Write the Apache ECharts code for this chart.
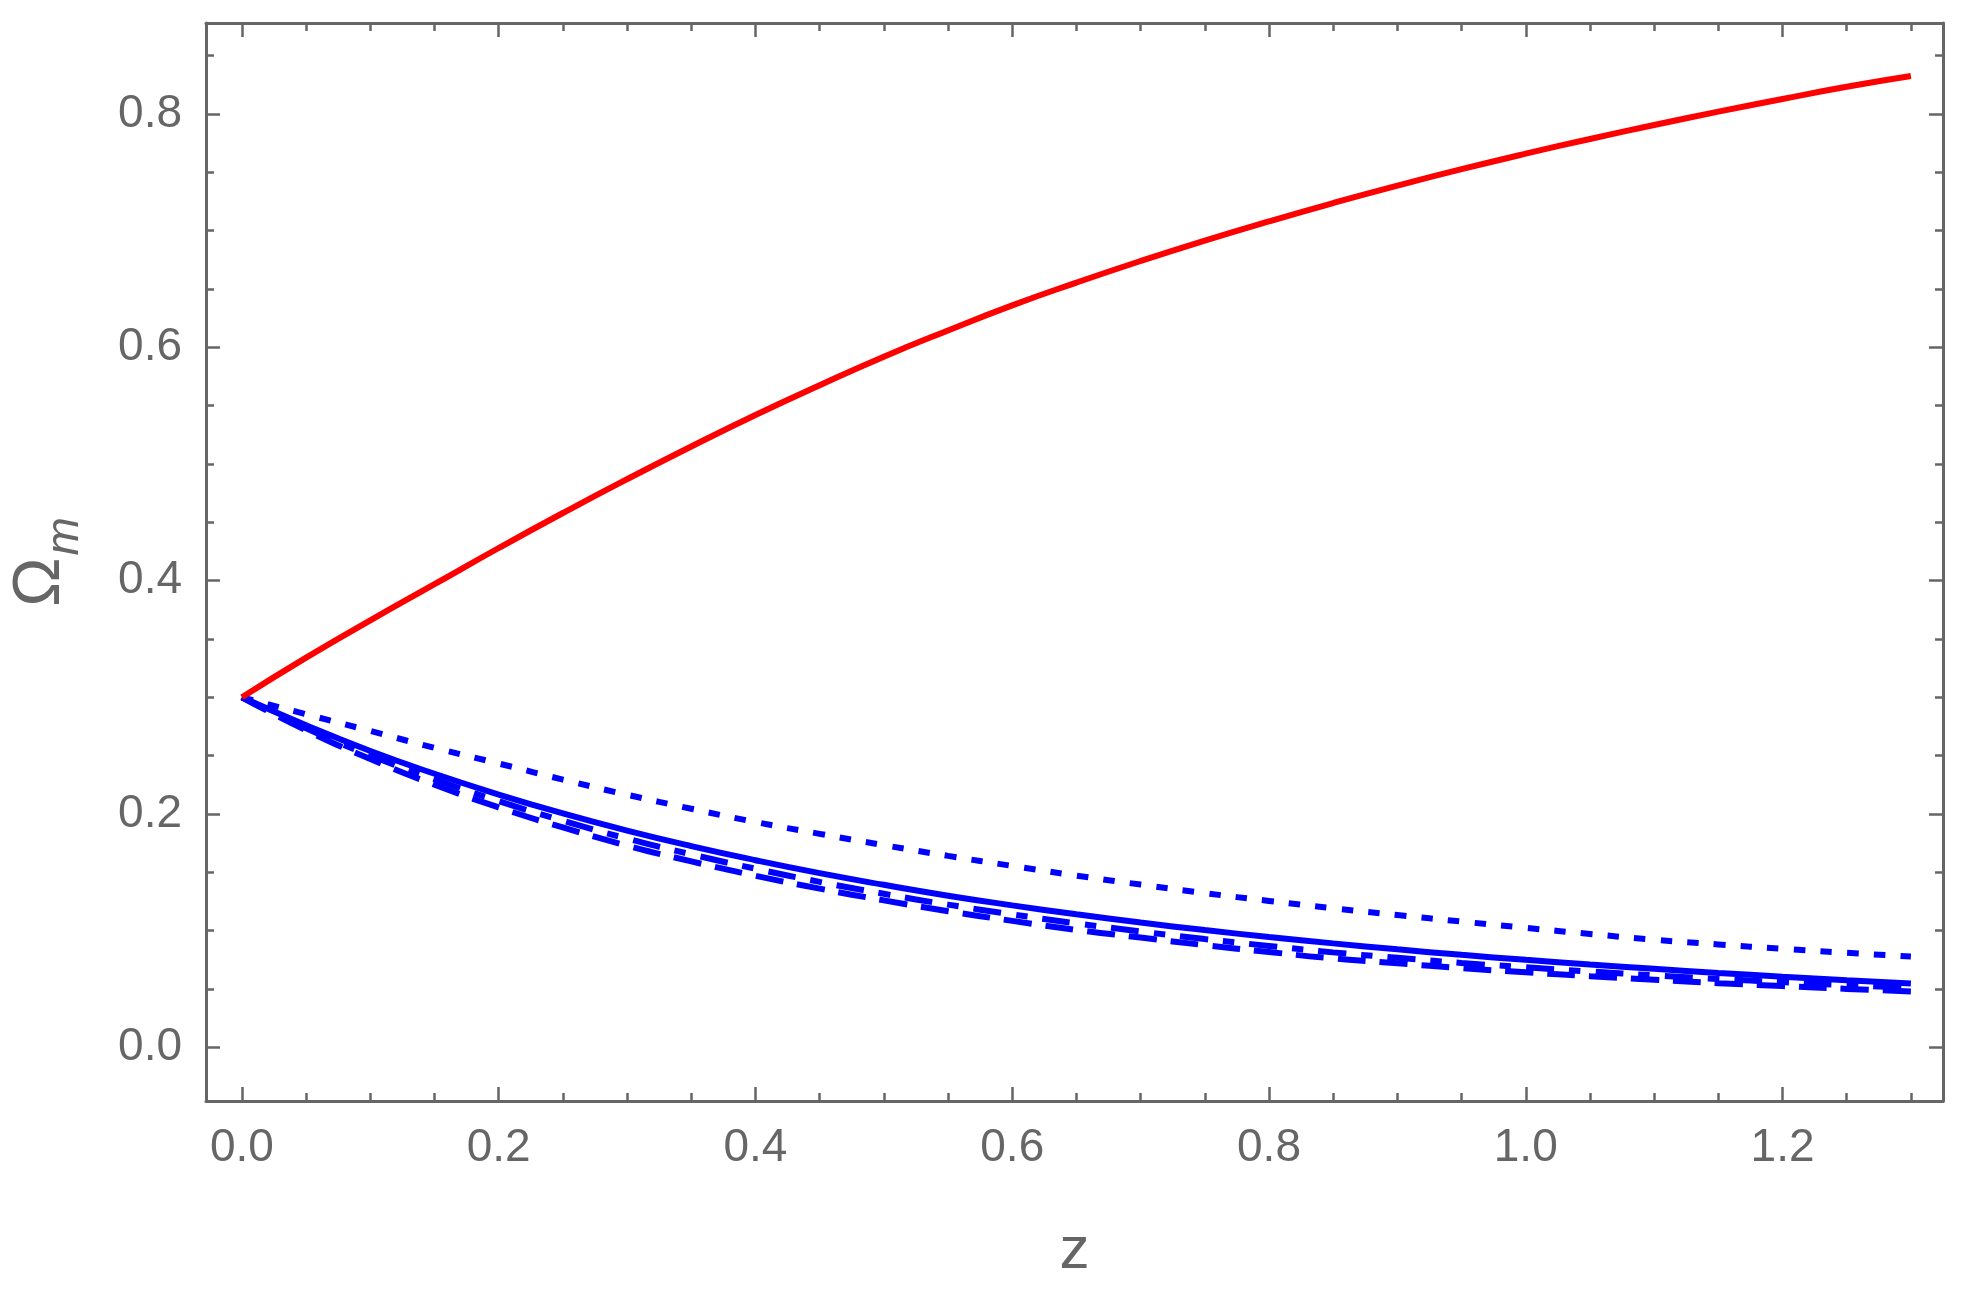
<!DOCTYPE html>
<html>
<head>
<meta charset="utf-8">
<script src="https://cdn.jsdelivr.net/npm/echarts@6/dist/echarts.min.js"></script>
<style>html,body{margin:0;padding:0;background:#fff;}#c{width:1962px;height:1296px;}</style>
</head>
<body>
<div id="c"></div>
<script>
// redshift samples
const zValues = [0, 0.05, 0.1, 0.15, 0.2, 0.25, 0.3, 0.35, 0.4, 0.45, 0.5, 0.55, 0.6, 0.65, 0.7, 0.75, 0.8, 0.85, 0.9, 0.95, 1.0, 1.05, 1.1, 1.15, 1.2, 1.25, 1.3];
// red solid curve
const omegaRed = [0.300, 0.334, 0.366, 0.397, 0.428, 0.458, 0.487, 0.515, 0.542, 0.5675, 0.592, 0.6145, 0.636, 0.6555, 0.674, 0.6915, 0.708, 0.7237, 0.7386, 0.7527, 0.766, 0.7786, 0.7906, 0.802, 0.8129, 0.8233, 0.8325];
// blue solid curve
const omegaBlueSolid = [0.300, 0.276, 0.254, 0.2345, 0.2167, 0.2005, 0.1858, 0.1725, 0.1604, 0.1493, 0.1393, 0.1300, 0.1217, 0.1140, 0.1070, 0.1005, 0.0946, 0.0891, 0.0840, 0.0793, 0.0750, 0.0710, 0.0673, 0.0638, 0.0606, 0.0576, 0.0548];
// blue dotted curve
const omegaBlueDotted = [0.300, 0.2855, 0.2712, 0.2567, 0.2433, 0.2295, 0.2165, 0.2045, 0.1931, 0.1830, 0.1733, 0.1641, 0.1555, 0.1472, 0.1395, 0.1322, 0.1255, 0.1192, 0.1134, 0.1078, 0.1024, 0.0972, 0.0922, 0.0882, 0.0845, 0.0810, 0.0778];
// blue dot-dashed curve
const omegaBlueDotDashed = [0.300, 0.2734, 0.2501, 0.2298, 0.2111, 0.1942, 0.1789, 0.1654, 0.1531, 0.1418, 0.1316, 0.1223, 0.1140, 0.1063, 0.0993, 0.0928, 0.0869, 0.0814, 0.0767, 0.0723, 0.0686, 0.0650, 0.0617, 0.0586, 0.0559, 0.0533, 0.0509];
// blue dashed curve
const omegaBlueDashed = [0.300, 0.2717, 0.2471, 0.2251, 0.2056, 0.1885, 0.1729, 0.1594, 0.1471, 0.1360, 0.1260, 0.1167, 0.1084, 0.1007, 0.0941, 0.0876, 0.0817, 0.0762, 0.0720, 0.0679, 0.0643, 0.0610, 0.0579, 0.0550, 0.0525, 0.0501, 0.0479];
// ticks
const xMajorTicks = [0, 0.2, 0.4, 0.6, 0.8, 1.0, 1.2];
const xMinorTicks = [0.05, 0.1, 0.15, 0.25, 0.3, 0.35, 0.45, 0.5, 0.55, 0.65, 0.7, 0.75, 0.85, 0.9, 0.95, 1.05, 1.1, 1.15, 1.25, 1.3];
const yMajorTicks = [0, 0.2, 0.4, 0.6, 0.8];
const yMinorTicks = [0.05, 0.1, 0.15, 0.25, 0.3, 0.35, 0.45, 0.5, 0.55, 0.65, 0.7, 0.75, 0.85];

const GRAY = '#666666';
const FONT = 'Liberation Sans, Arial, sans-serif';
const X_MIN = -0.028, X_MAX = 1.325, Y_MIN = -0.046, Y_MAX = 0.878;

function pairs(ys) { return zValues.map((z, i) => [z, ys[i]]); }

function axis(kind, position, ticks, major, withLabels, withLine) {
  return {
    type: 'value', position: position,
    min: kind === 'x' ? X_MIN : Y_MIN,
    max: kind === 'x' ? X_MAX : Y_MAX,
    splitLine: { show: false },
    axisLine: { show: withLine, onZero: false, lineStyle: { color: GRAY, width: 3 } },
    axisTick: { show: true, inside: true, customValues: ticks, length: major ? 14 : 8, lineStyle: { color: GRAY, width: 2.5 } },
    axisLabel: withLabels ? {
      show: true, customValues: ticks, color: GRAY, fontFamily: FONT, fontSize: 46,
      margin: 24,
      formatter: v => Number(v).toFixed(1)
    } : { show: false }
  };
}

const xAxes = [
  axis('x', 'bottom', xMajorTicks, true, true, true),
  axis('x', 'bottom', xMinorTicks, false, false, false),
  axis('x', 'top', xMajorTicks, true, false, true),
  axis('x', 'top', xMinorTicks, false, false, false)
];
xAxes[0].name = 'z';
xAxes[0].nameLocation = 'middle';
xAxes[0].nameGap = 120;
xAxes[0].nameTextStyle = { color: GRAY, fontFamily: FONT, fontSize: 60 };

const yAxes = [
  axis('y', 'left', yMajorTicks, true, true, true),
  axis('y', 'left', yMinorTicks, false, false, false),
  axis('y', 'right', yMajorTicks, true, false, true),
  axis('y', 'right', yMinorTicks, false, false, false)
];
yAxes[0].name = '{o|Ω}{m|m}';
yAxes[0].nameLocation = 'middle';
yAxes[0].nameRotate = 90;
yAxes[0].nameGap = 122;
yAxes[0].nameTextStyle = {
  color: GRAY, fontFamily: FONT,
  rich: {
    o: { fontSize: 66, fontFamily: FONT, color: GRAY, lineHeight: 76, verticalAlign: 'top' },
    m: { fontSize: 46, fontFamily: FONT, fontStyle: 'italic', color: GRAY, lineHeight: 46, padding: [34, 0, 0, 2], verticalAlign: 'top' }
  }
};

function line(data, color, type) {
  return {
    type: 'line', data: pairs(data), xAxisIndex: 0, yAxisIndex: 0,
    showSymbol: false, symbol: 'none', smooth: 0.5,
    lineStyle: { color: color, width: 6, type: type, cap: 'butt' },
    animation: false, silent: true
  };
}

const chart = echarts.init(document.getElementById('c'), null, { renderer: 'canvas' });
chart.setOption({
  backgroundColor: '#ffffff',
  animation: false,
  grid: { left: 202, right: 19, top: 23, bottom: 195, containLabel: false },
  xAxis: xAxes,
  yAxis: yAxes,
  series: [
    line(omegaBlueDashed, '#0000ff', [28, 14]),
    line(omegaBlueDotDashed, '#0000ff', [28, 15, 11.5, 15]),
    line(omegaBlueDotted, '#0000ff', [11.5, 15.2]),
    line(omegaBlueSolid, '#0000ff', 'solid'),
    line(omegaRed, '#ff0000', 'solid')
  ]
});
</script>
</body>
</html>
